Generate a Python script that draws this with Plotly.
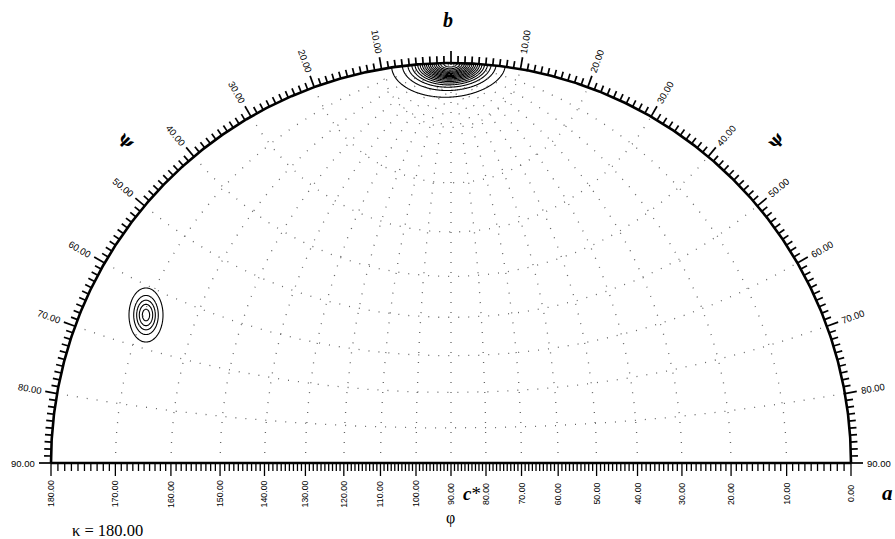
import numpy as np
import plotly.graph_objects as go

# ---------------- data ----------------
# labels along the primitive circle (angle from b, both sides)
arc_label_values = [10, 20, 30, 40, 50, 60, 70, 80, 90]
arc_labels = ["10.00", "20.00", "30.00", "40.00", "50.00", "60.00", "70.00", "80.00", "90.00"]
# labels along the diameter (phi, stereographic spacing)
phi_values = [180, 170, 160, 150, 140, 130, 120, 110, 100, 90, 80, 70, 60, 50, 40, 30, 20, 10, 0]
phi_labels = ["180.00", "170.00", "160.00", "150.00", "140.00", "130.00", "120.00", "110.00",
              "100.00", "90.00", "80.00", "70.00", "60.00", "50.00", "40.00", "30.00",
              "20.00", "10.00", "0.00"]
# dotted net
grid_psi = [10, 20, 30, 40, 50, 60, 70, 80]
grid_phi = [10, 20, 30, 40, 50, 60, 70, 80, 90, 100, 110, 120, 130, 140, 150, 160, 170]
# self-rotation peaks (projected position, height, widths)
peak_x = [-0.7625, 0.0, -0.02]
peak_y = [0.370, 1.000, 0.985]
peak_h = [1.0, 3.2, 0.55]
peak_sx = [0.0198, 0.050, 0.062]
peak_sy = [0.0315, 0.027, 0.036]
kappa_text = "κ = 180.00"

# ---------------- layout geometry ----------------
W, H = 895, 539
CX, CY, R = 451.0, 463.0, 400.0   # pixel centre and radius
xr = [-CX / R, (W - CX) / R]
yr = [-(H - CY) / R, CY / R]
px = 1.0 / R

fig = go.Figure()

grid_line = dict(color="#666", width=1.3, dash="1px,9px")
# dotted net: small circles about b
for p in grid_psi:
    t = np.radians(p)
    c, r = 1 / np.cos(t), np.tan(t)
    a0 = np.pi / 2 - t
    a = np.linspace(-a0, a0, 300)
    fig.add_trace(go.Scatter(x=r * np.sin(a), y=c - r * np.cos(a), mode="lines",
                             line=grid_line, hoverinfo="skip", showlegend=False))
# dotted net: great circles through b
for f in grid_phi:
    x0 = np.tan(np.radians(90 - f) / 2)
    if abs(x0) < 1e-9:
        xs, ys = np.array([0, 0]), np.array([0, 1])
    else:
        c = (x0 ** 2 - 1) / (2 * x0)
        rho = np.hypot(c, 1)
        b0 = np.arctan2(0, x0 - c)
        b1 = np.arctan2(1, -c)
        b = np.linspace(b0, b1, 300)
        xs, ys = c + rho * np.cos(b), rho * np.sin(b)
    fig.add_trace(go.Scatter(x=xs, y=ys, mode="lines", line=grid_line,
                             hoverinfo="skip", showlegend=False))

# contours of the rotation function
def field(X, Y):
    Z = np.zeros_like(X)
    for x0, y0, h, sx, sy in zip(peak_x, peak_y, peak_h, peak_sx, peak_sy):
        Z += h * np.exp(-0.5 * (((X - x0) / sx) ** 2 + ((Y - y0) / sy) ** 2))
    Z[X ** 2 + Y ** 2 > 1.0] = np.nan
    return Z

for (xa, xb, ya, yb) in [(-0.86, -0.66, 0.25, 0.49), (-0.26, 0.24, 0.80, 1.005)]:
    gx = np.arange(xa, xb, 0.0015)
    gy = np.arange(ya, yb, 0.0015)
    GX, GY = np.meshgrid(gx, gy)
    Z = field(GX, GY)
    fig.add_trace(go.Contour(x=gx, y=gy, z=Z, showscale=False, hoverinfo="skip",
                             contours=dict(start=0.1, end=4.0, size=0.2, coloring="lines"),
                             line=dict(width=1.1), colorscale=[[0, "black"], [1, "black"]],
                             connectgaps=False))

# primitive circle and diameter
a = np.radians(np.linspace(0, 180, 721))
fig.add_trace(go.Scatter(x=np.cos(a), y=np.sin(a), mode="lines",
                         line=dict(color="black", width=2.6), hoverinfo="skip", showlegend=False))
fig.add_trace(go.Scatter(x=[-1, 1], y=[0, 0], mode="lines",
                         line=dict(color="black", width=2.6), hoverinfo="skip", showlegend=False))

# ticks on the arc
tx, ty = [], []
for d in range(-90, 91):
    t = np.radians(d)
    L = (12 if d % 10 == 0 else 7) * px
    s, c = np.sin(t), np.cos(t)
    tx += [s, (1 + L) * s, None]
    ty += [c, (1 + L) * c, None]
fig.add_trace(go.Scatter(x=tx, y=ty, mode="lines", line=dict(color="black", width=1.7),
                         hoverinfo="skip", showlegend=False))
# ticks on the diameter
bx, by = [], []
for f in range(0, 181):
    x0 = np.tan(np.radians(90 - f) / 2)
    L = (13 if f % 10 == 0 else 8) * px
    bx += [x0, x0, None]
    by += [0, -L, None]
fig.add_trace(go.Scatter(x=bx, y=by, mode="lines", line=dict(color="black", width=1.3),
                         hoverinfo="skip", showlegend=False))

ann = []
num_font = dict(family="Liberation Sans, Arial", size=9.5, color="black")
rl = 1 + 28 * px
for v, lab in zip(arc_label_values, arc_labels):
    t = np.radians(v)
    ann.append(dict(x=-rl * np.sin(t), y=rl * np.cos(t), text=lab, textangle=90 - v,
                    font=num_font))
    ann.append(dict(x=rl * np.sin(t), y=rl * np.cos(t), text=lab, textangle=-(90 - v),
                    font=num_font))
for f, lab in zip(phi_values, phi_labels):
    x0 = np.tan(np.radians(90 - f) / 2)
    ann.append(dict(x=x0, y=-31 * px, text=lab, textangle=-90,
                    font=dict(family="Liberation Sans, Arial", size=8.8, color="black")))

# psi symbols
rp = 1 + 58 * px
for sgn in (-1, 1):
    t = np.radians(45)
    ann.append(dict(x=sgn * rp * np.sin(t), y=rp * np.cos(t), text="<b>ψ</b>", textangle=-sgn * 45,
                    font=dict(family="DejaVu Serif, serif", size=16, color="black")))

serif = "Liberation Serif, Times New Roman, serif"
ann.append(dict(x=(448 - CX) * px, y=(CY - 20) * px, text="<b><i>b</i></b>",
                font=dict(family=serif, size=20, color="black")))
ann.append(dict(x=(887 - CX) * px, y=(CY - 493) * px, text="<b><i>a</i></b>",
                font=dict(family=serif, size=21, color="black")))
ann.append(dict(x=(472 - CX) * px, y=(CY - 493) * px, text="<b><i>c</i></b>*",
                font=dict(family=serif, size=19, color="black")))
ann.append(dict(x=(450 - CX) * px, y=(CY - 518) * px, text="φ",
                font=dict(family=serif, size=16, color="black")))
ann.append(dict(x=(107 - CX) * px, y=(CY - 530) * px, text=kappa_text,
                font=dict(family=serif, size=16.5, color="black")))

for an in ann:
    an.update(xref="x", yref="y", showarrow=False, xanchor="center", yanchor="middle")

fig.update_layout(
    width=W, height=H, autosize=False,
    margin=dict(l=0, r=0, t=0, b=0),
    paper_bgcolor="white", plot_bgcolor="white",
    xaxis=dict(range=xr, visible=False, showgrid=False, zeroline=False, fixedrange=True),
    yaxis=dict(range=yr, visible=False, showgrid=False, zeroline=False, fixedrange=True),
    annotations=ann, showlegend=False,
)

fig.write_html("out.html", config={"displayModeBar": False},
               post_script="document.body.style.margin='0';document.body.style.overflow='hidden';")
